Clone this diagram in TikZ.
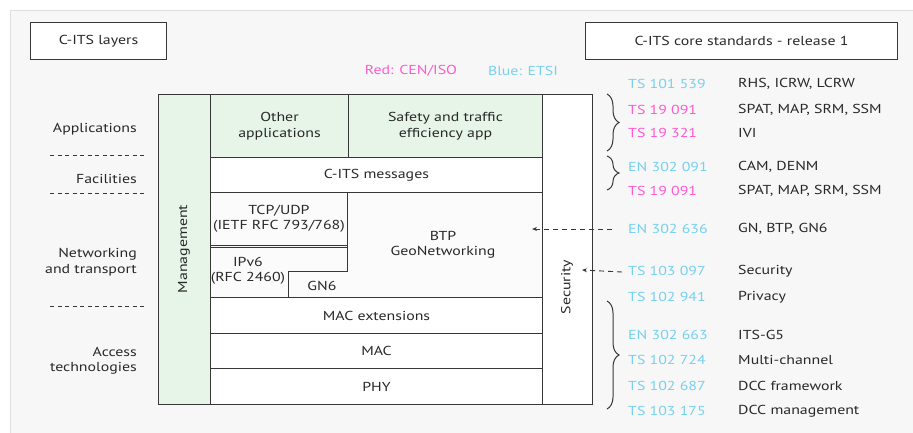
\documentclass[tikz,border=0pt]{standalone}
\usepackage{fontspec}
\setmainfont{PT Sans}[FakeStretch=1.22]
\usetikzlibrary{arrows.meta,decorations.pathreplacing}
\definecolor{panel}{RGB}{246,247,246}
\definecolor{offw}{RGB}{250,251,250}
\definecolor{appgreen}{RGB}{230,245,232}
\definecolor{linec}{RGB}{55,55,55}
\definecolor{txt}{RGB}{40,40,40}
\definecolor{etsi}{RGB}{120,208,240}
\definecolor{ceniso}{RGB}{255,90,210}
\tikzset{
  every node/.style={font=\fontsize{13}{15.5}\selectfont, text=txt},
  layer/.style={draw=linec, line width=1pt, inner sep=0pt, align=center, anchor=north west},
  hdr/.style={draw=linec, line width=1pt, fill=white, inner sep=0pt, align=center, anchor=north west},
  lbl/.style={anchor=east, align=right, inner sep=0pt},
  code/.style={anchor=west, inner sep=0pt},
  desc/.style={anchor=west, inner sep=0pt},
  sep/.style={draw=linec, line width=0.9pt, dash pattern=on 4pt off 3.5pt},
  bracedec/.style={draw=linec, line width=1pt, decorate, decoration={brace, amplitude=12pt}},
  refarrow/.style={draw=linec, line width=0.9pt, dash pattern=on 5pt off 4pt, -{Stealth[length=5pt,width=4pt]}},
}
\begin{document}
\begin{tikzpicture}[x=1pt,y=-1pt]
\useasboundingbox (0,0) rectangle (913,433);
\fill[white] (0,0) rectangle (913,433);
\fill[panel] (10,10) rectangle (913,433);
\draw[gray!25, line width=0.6pt] (913,10) -- (10,10) -- (10,433);

% headers
\node[hdr, minimum width=136pt, minimum height=37pt] (hl) at (30,22) {C-ITS layers};
\node[hdr, minimum width=312pt, minimum height=37pt] (hr) at (585,22) {C-ITS core standards - release 1};
\node[text=ceniso, inner sep=0pt] (red) at (411,71) {Red: CEN/ISO};
\node[text=etsi, inner sep=0pt] (blue) at (523,71) {Blue: ETSI};

% stack
\node[layer, fill=appgreen, minimum width=52pt, minimum height=310pt] (mgmt) at (158,94) {};
\node[rotate=90, inner sep=0pt] (mgmtt) at (184,249) {Management};
\node[layer, fill=white, minimum width=50pt, minimum height=310pt] (sec) at (542,94) {};
\node[rotate=90, inner sep=0pt] (sect) at (567,287) {Security};
\node[layer, fill=appgreen, minimum width=138pt, minimum height=63pt] (oth) at (210,94) {Other\\applications};
\node[layer, fill=appgreen, minimum width=194pt, minimum height=63pt] (saf) at (348,94) {Safety and traffic\\efficiency app};
\node[layer, fill=white, minimum width=332pt, minimum height=35pt] (msg) at (210,157) {C-ITS messages};
\node[layer, fill=offw, minimum width=137pt, minimum height=52.5pt] (tcp) at (210,192) {TCP/UDP\\(IETF RFC 793/768)};
\draw[linec, line width=1pt, fill=offw] (210,247) -- (347,247) -- (347,271) -- (288,271) -- (288,297) -- (210,297) -- cycle;
\node[inner sep=0pt, align=center] (ipv6) at (248,271) {IPv6\\(RFC 2460)};
\draw[linec, line width=1pt, fill=offw] (347,192) -- (542,192) -- (542,297) -- (288,297) -- (288,271) -- (347,271) -- cycle;
\node[inner sep=0pt, align=center] (btp) at (443,245) {BTP\\GeoNetworking};
\node[inner sep=0pt] (gn6) at (322,286) {GN6};
\node[layer, fill=white, minimum width=332pt, minimum height=36pt] (macx) at (210,297) {MAC extensions};
\node[layer, fill=white, minimum width=332pt, minimum height=35pt] (mac) at (210,333) {MAC};
\node[layer, fill=white, minimum width=332pt, minimum height=36pt] (phy) at (210,368) {PHY};

% left labels
\node[lbl] (lapp) at (137,129) {Applications};
\node[lbl] (lfac) at (137,179) {Facilities};
\node[lbl] (lnet) at (137,262) {Networking\\and transport};
\node[lbl] (lacc) at (137,361) {Access\\technologies};
\coordinate (d1a) at (50,155); \coordinate (d1b) at (147,155);
\coordinate (d2a) at (50,193); \coordinate (d2b) at (147,193);
\coordinate (d3a) at (50,306); \coordinate (d3b) at (147,306);
\draw[sep] (d1a) -- (d1b);
\draw[sep] (d2a) -- (d2b);
\draw[sep] (d3a) -- (d3b);

% standards list
\node[code, text=etsi] (c1) at (628,84) {TS 101 539};
\node[desc] (e1) at (738,84) {RHS, ICRW, LCRW};
\node[code, text=ceniso] (c2) at (628,110) {TS 19 091};
\node[desc] (e2) at (738,110) {SPAT, MAP, SRM, SSM};
\node[code, text=ceniso] (c3) at (628,133) {TS 19 321};
\node[desc] (e3) at (738,133) {IVI};
\node[code, text=etsi] (c4) at (628,167) {EN 302 091};
\node[desc] (e4) at (738,167) {CAM, DENM};
\node[code, text=ceniso] (c5) at (628,191) {TS 19 091};
\node[desc] (e5) at (738,191) {SPAT, MAP, SRM, SSM};
\node[code, text=etsi] (c6) at (628,229) {EN 302 636};
\node[desc] (e6) at (738,229) {GN, BTP, GN6};
\node[code, text=etsi] (c7) at (628,271) {TS 103 097};
\node[desc] (e7) at (738,271) {Security};
\node[code, text=etsi] (c8) at (628,297) {TS 102 941};
\node[desc] (e8) at (738,297) {Privacy};
\node[code, text=etsi] (c9) at (628,335) {EN 302 663};
\node[desc] (e9) at (738,335) {ITS-G5};
\node[code, text=etsi] (c10) at (628,360) {TS 102 724};
\node[desc] (e10) at (738,360) {Multi-channel};
\node[code, text=etsi] (c11) at (628,386) {TS 102 687};
\node[desc] (e11) at (738,386) {DCC framework};
\node[code, text=etsi] (c12) at (628,411) {TS 103 175};
\node[desc] (e12) at (738,411) {DCC management};

% braces
\coordinate (b1a) at (607,94);  \coordinate (b1b) at (607,151);
\coordinate (b2a) at (607,156); \coordinate (b2b) at (607,190);
\coordinate (b3a) at (607,301); \coordinate (b3b) at (607,409);
\draw[bracedec] (b1a) -- (b1b);
\draw[bracedec] (b2a) -- (b2b);
\draw[bracedec] (b3a) -- (b3b);

% arrows
\coordinate (t1) at (532,229);
\coordinate (t2) at (582,270);
\draw[refarrow] ([xshift=-16pt]c6.west) -- (t1);
\draw[refarrow] ([xshift=-6pt,yshift=-1pt]c7.west) -- (t2);
\end{tikzpicture}
\end{document}
